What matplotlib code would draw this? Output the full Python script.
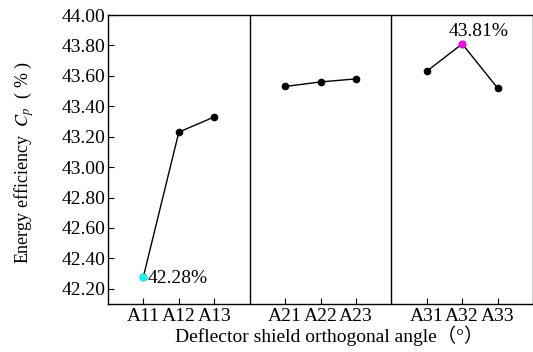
import matplotlib.pyplot as plt

plt.rcParams['font.family'] = ['Liberation Serif', 'DejaVu Serif']
plt.rcParams['mathtext.fontset'] = 'stix'

groups = [["A11", "A12", "A13"], ["A21", "A22", "A23"], ["A31", "A32", "A33"]]
values = [[42.28, 43.23, 43.33], [43.53, 43.56, 43.58], [43.63, 43.81, 43.52]]
yticks = [42.20, 42.40, 42.60, 42.80, 43.00, 43.20, 43.40, 43.60, 43.80, 44.00]

fig = plt.figure(figsize=(5.33, 3.52), dpi=100)
ax = fig.add_axes([108 / 533, 1 - 304 / 352, 1 - 108 / 533, 289 / 352])

xpos_all = []
labels_all = []
for g, (names, vals) in enumerate(zip(groups, values)):
    xs = [4 * g + 1 + i for i in range(len(vals))]
    ax.plot(xs, vals, color="black", lw=1.0, marker="o", ms=4.5,
            markerfacecolor="black", markeredgecolor="black")
    xpos_all += xs
    labels_all += names
    if g < 2:
        ax.axvline(4 * g + 4, color="black", lw=1.0)

# highlight min and max
ax.plot(1, values[0][0], "o", color="cyan", ms=4.5)
ax.annotate("42.28%", (1, values[0][0]), xytext=(3, -1), textcoords="offset points",
            ha="left", va="center", fontsize=14)
ax.plot(10, values[2][1], "o", color="magenta", ms=4.5)
ax.annotate("43.81%", (10, values[2][1]), xytext=(12, 3), textcoords="offset points",
            ha="center", va="bottom", fontsize=14)

ax.set_xlim(0, 12)
ax.set_ylim(42.10, 44.00)
ax.set_yticks(yticks)
ax.set_yticklabels([f"{v:.2f}" for v in yticks], fontsize=14)
ax.set_xticks(xpos_all)
ax.set_xticklabels(labels_all, fontsize=14)
ax.tick_params(direction="in", length=4, width=0.8, pad=2)
ax.tick_params(axis="x", pad=3)
for s in ax.spines.values():
    s.set_linewidth(1.0)

ax.set_ylabel("Energy efficiency  $C_p$  ( % )", fontsize=13)
ax.yaxis.set_label_coords(-0.17, 0.49)
ax.set_xlabel("Deflector shield orthogonal angle（°）", fontsize=14,
              family=['Liberation Serif', 'Noto Sans CJK SC'])
ax.xaxis.set_label_coords(0.52, -0.075)

fig.savefig("out.png", dpi=100)
